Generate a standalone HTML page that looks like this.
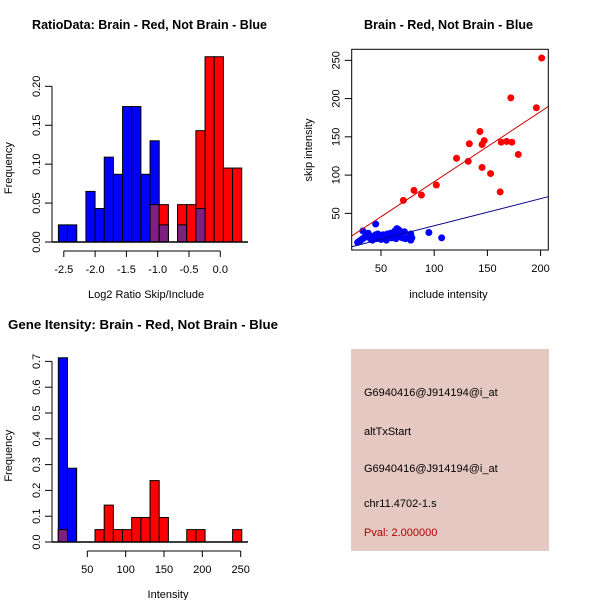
<!DOCTYPE html>
<html><head><meta charset="utf-8"><style>
html,body{margin:0;padding:0;background:#fff;}
svg{display:block;font-family:"Liberation Sans",sans-serif;}
</style></head><body>
<svg id="c" width="600" height="600" viewBox="0 0 600 600">
<rect x="0" y="0" width="600" height="600" fill="#fff"/>
<text x="149.5" y="29" font-size="13" font-weight="bold" text-anchor="middle" textLength="235" lengthAdjust="spacingAndGlyphs">RatioData: Brain - Red, Not Brain - Blue</text>
<text x="448.5" y="29" font-size="13" font-weight="bold" text-anchor="middle" textLength="169" lengthAdjust="spacingAndGlyphs">Brain - Red, Not Brain - Blue</text>
<text x="143" y="329" font-size="13" font-weight="bold" text-anchor="middle" textLength="270" lengthAdjust="spacingAndGlyphs">Gene Itensity: Brain - Red, Not Brain - Blue</text>
<g id="g1"></g>
<g id="g2"></g>
<g id="g3"></g>
<g>
<rect x="351" y="349" width="198" height="202" fill="#e6c8c2"/>
<text x="364" y="396" font-size="11">G6940416@J914194@i_at</text>
<text x="364" y="435" font-size="11">altTxStart</text>
<text x="364" y="472" font-size="11">G6940416@J914194@i_at</text>
<text x="364" y="507" font-size="11">chr11.4702-1.s</text>
<text x="364" y="536" font-size="11" fill="#b00000">Pval: 2.000000</text>
</g>
</svg>
<script>
// ---- Ratio histogram data ----
const ratioBinStart = -2.586;
const ratioBinWidth = 0.1464;
const ratioBlue = [0.022,0.022,0,0.065,0.043,0.109,0.087,0.174,0.174,0.087,0.130,0.022,0,0.022,0,0.043,0,0,0,0];
const ratioRed  = [0,0,0,0,0,0,0,0,0,0,0.048,0.048,0,0.048,0.048,0.143,0.238,0.238,0.095,0.095];
const ratioXTicks = [-2.5,-2.0,-1.5,-1.0,-0.5,0.0];
const ratioXLabels = ["-2.5","-2.0","-1.5","-1.0","-0.5","0.0"];
const ratioYTicks = [0,0.05,0.10,0.15,0.20];
const ratioYLabels = ["0.00","0.05","0.10","0.15","0.20"];
// ---- Scatter data ----
const redInclude = [36,71,81,88,102,121,132,133,143,145,145,147,153,162,163,168,172,173,179,196,201];
const redSkip    = [20,67,80,74,87,122,118,141,157,140,110,145,102,78,143,144,201,143,127,188,253];
const blueInclude = [28,30,31,33,33,34,36,38,40,42,43,45,45,46,47,48,50,50,52,53,54,55,56,57,58,59,60,61,62,63,63,64,65,65,66,67,68,70,72,73,76,78,78,79,95,107];
const blueSkip    = [12,14,15,27,17,18,20,24,17,15,20,36,22,17,23,19,21,16,22,18,20,15,23,19,21,24,18,22,25,20,27,17,23,30,19,28,22,18,26,17,19,23,15,18,25,18];
const redLine = [-0.2, 0.916];
const blueLine = [-1.6, 0.354];
const scXTicks = [50,100,150,200];
const scYTicks = [50,100,150,200,250];
// ---- Intensity histogram data ----
const intBinStart = 12.2;
const intBinWidth = 11.96;
const intBlue = [0.714,0.286,0,0,0,0,0,0,0,0,0,0,0,0,0,0,0,0,0,0];
const intRed  = [0.048,0,0,0,0.048,0.143,0.048,0.048,0.095,0.095,0.238,0.095,0,0,0.048,0.048,0,0,0,0.048];
const intXTicks = [50,100,150,200,250];
const intYTicks = [0,0.1,0.2,0.3,0.4,0.5,0.6,0.7];
const intYLabels = ["0.0","0.1","0.2","0.3","0.4","0.5","0.6","0.7"];

const NS="http://www.w3.org/2000/svg";
function mk(parent,tag,attrs,txt){const e=document.createElementNS(NS,tag);for(const k in attrs)e.setAttribute(k,attrs[k]);if(txt!==undefined)e.textContent=txt;parent.appendChild(e);return e;}

function hist(g,cfg){
  const {bx,by,blue,red,start,width,xT,xL,yT,yL,xLabel,yAxisX,xAxisY,xLabY,name}=cfg;
  for(let i=0;i<blue.length;i++){
    const x0=bx(start+i*width), x1=bx(start+(i+1)*width);
    const b=blue[i], r=red[i];
    if(b>0){const e=mk(g,'rect',{x:x0,y:by(b),width:x1-x0,height:by(0)-by(b),fill:'#0000ff',stroke:'#000','stroke-width':1});
      
      }
    if(r>0){const e=mk(g,'rect',{x:x0,y:by(r),width:x1-x0,height:by(0)-by(r),fill:'#ff0000',stroke:'#000','stroke-width':1});
      
      }
    const m=Math.min(b,r);
    if(m>0){const e=mk(g,'rect',{x:x0,y:by(m),width:x1-x0,height:by(0)-by(m),fill:'#7f1f7f',stroke:'#000','stroke-width':1});
      
      }
  }
  mk(g,'line',{x1:yAxisX,x2:248,y1:by(0),y2:by(0),stroke:'#000','stroke-width':1.5});
  const xa=mk(g,'g',{});
  
  
  mk(xa,'line',{x1:bx(xT[0]),x2:bx(xT[xT.length-1]),y1:xAxisY,y2:xAxisY,stroke:'#000'});
  xT.forEach((t,i)=>{mk(xa,'line',{x1:bx(t),x2:bx(t),y1:xAxisY,y2:xAxisY+6,stroke:'#000'});
    mk(xa,'text',{x:bx(t),y:xAxisY+22,'font-size':11,'text-anchor':'middle'},xL[i]);});
  const xl=mk(g,'text',{x:(bx(xT[0])+bx(xT[xT.length-1]))/2+4,y:xLabY,'font-size':11,'text-anchor':'middle'},xLabel);
  
  
  const ya=mk(g,'g',{});
  
  
  mk(ya,'line',{x1:yAxisX,x2:yAxisX,y1:by(yT[0]),y2:by(yT[yT.length-1]),stroke:'#000'});
  yT.forEach((t,i)=>{mk(ya,'line',{x1:yAxisX-7,x2:yAxisX,y1:by(t),y2:by(t),stroke:'#000'});
    mk(ya,'text',{x:0,y:0,'font-size':11,'text-anchor':'middle',transform:`translate(${yAxisX-12},${by(t)}) rotate(-90)`},yL[i]);});
  const yl=mk(g,'text',{x:0,y:0,'font-size':11,'text-anchor':'middle',transform:`translate(${12},${(by(yT[0])+by(yT[yT.length-1]))/2+4}) rotate(-90)`},'Frequency');
  
  
}

hist(document.getElementById('g1'),{
  bx:v=>220.3+v*62.6, by:v=>242-v*778.4, blue:ratioBlue, red:ratioRed, start:ratioBinStart, width:ratioBinWidth,
  xT:ratioXTicks,xL:ratioXLabels,yT:ratioYTicks,yL:ratioYLabels,xLabel:'Log2 Ratio Skip/Include',
  yAxisX:52,xAxisY:251,xLabY:298,name:'ratio'});
hist(document.getElementById('g3'),{
  bx:v=>48.95+v*0.767, by:v=>542-v*258, blue:intBlue, red:intRed, start:intBinStart, width:intBinWidth,
  xT:intXTicks,xL:intXTicks.map(String),yT:intYTicks,yL:intYLabels,xLabel:'Intensity',
  yAxisX:52,xAxisY:551,xLabY:598,name:'intensity'});

(function(){
  const g=document.getElementById('g2');
  const sx=v=>327.8+v*1.064, sy=v=>251.6-v*0.765;
  const L=351.7,R=548.3,T=49.3,B=250;
  const cp=mk(g,'clipPath',{id:'cp'}); mk(cp,'rect',{x:L,y:T,width:R-L,height:B-T});
  const x0=(L-327.8)/1.064, x1=(R-327.8)/1.064;
  redInclude.forEach((v,i)=>{const c=mk(g,'circle',{cx:sx(v),cy:sy(redSkip[i]),r:3.5,fill:'#ff0000'});
    
    });
  blueInclude.forEach((v,i)=>{const c=mk(g,'circle',{cx:sx(v),cy:sy(blueSkip[i]),r:3.5,fill:'#0000ff'});
    
    });
  const rl=mk(g,'line',{x1:sx(x0),x2:sx(x1),y1:sy(redLine[0]+redLine[1]*x0),y2:sy(redLine[0]+redLine[1]*x1),stroke:'#cc0000','clip-path':'url(#cp)'});
  
  
  const bl=mk(g,'line',{x1:sx(x0),x2:sx(x1),y1:sy(blueLine[0]+blueLine[1]*x0),y2:sy(blueLine[0]+blueLine[1]*x1),stroke:'#00008b','clip-path':'url(#cp)'});
  
  
  const box=mk(g,'rect',{x:L,y:T,width:R-L,height:B-T,fill:'none',stroke:'#000'});
  
  
  scXTicks.forEach(t=>{mk(g,'line',{x1:sx(t),x2:sx(t),y1:B,y2:B+6,stroke:'#000'});
    mk(g,'text',{x:sx(t),y:B+22,'font-size':11,'text-anchor':'middle'},String(t));});
  scYTicks.forEach(t=>{mk(g,'line',{x1:L-7,x2:L,y1:sy(t),y2:sy(t),stroke:'#000'});
    mk(g,'text',{x:0,y:0,'font-size':11,'text-anchor':'middle',transform:`translate(${L-12},${sy(t)}) rotate(-90)`},String(t));});
  const xl=mk(g,'text',{x:448.5,y:298,'font-size':11,'text-anchor':'middle'},'include intensity');
  
  
  const yl=mk(g,'text',{x:0,y:0,'font-size':11,'text-anchor':'middle',transform:'translate(312,150) rotate(-90)'},'skip intensity');
  
  
})();
</script>
</body></html>
